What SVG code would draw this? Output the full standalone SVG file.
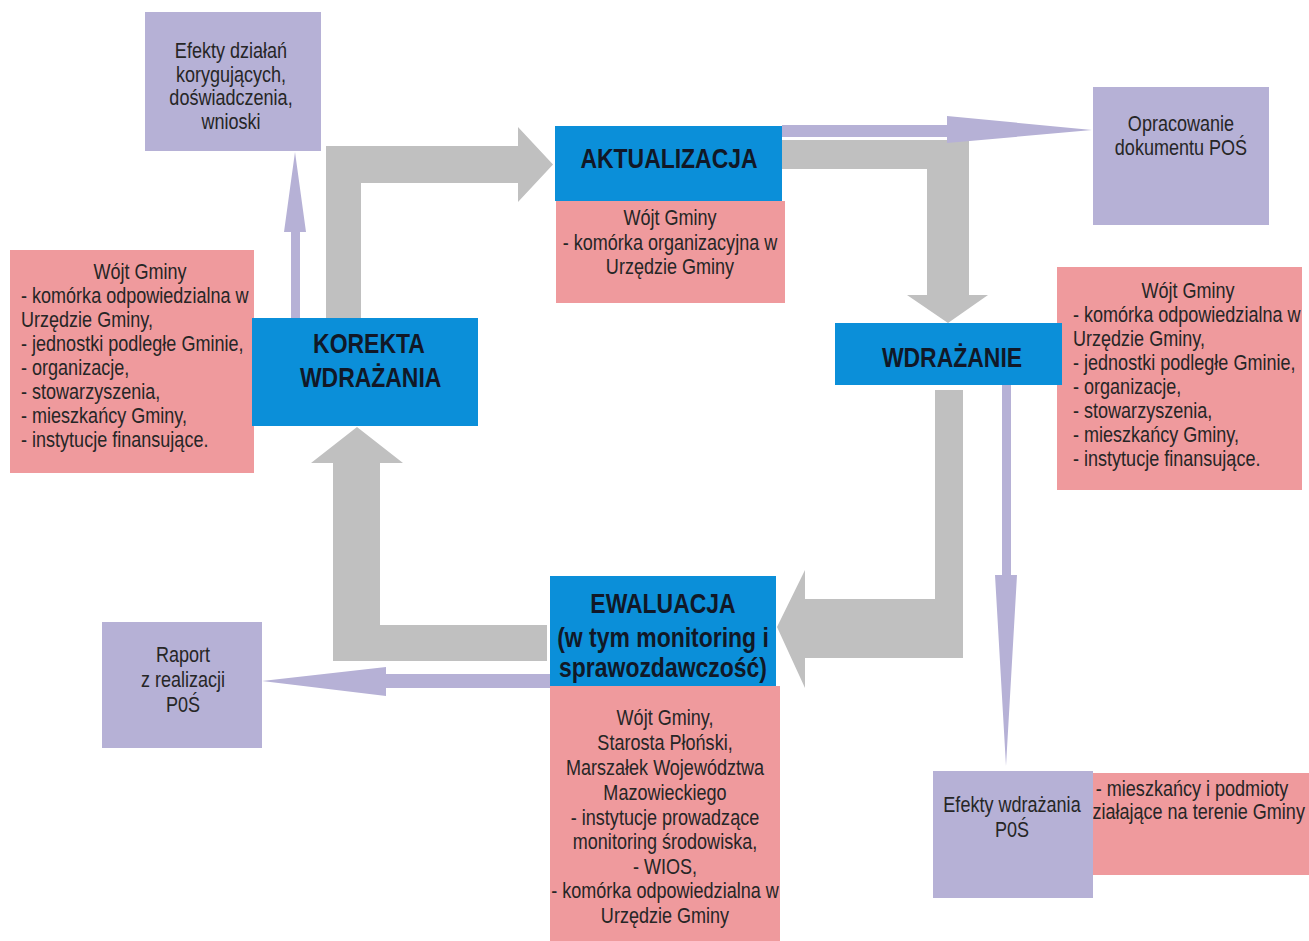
<svg xmlns="http://www.w3.org/2000/svg" width="1309" height="941" viewBox="0 0 1309 941">
<style>
.bg{fill:#ffffff}
.lav{fill:#b6b1d6}
.pink{fill:#ef9a9d}
.blue{fill:#0b8fd9}
.grey{fill:#c0c0c0}
.t{font-family:"Liberation Sans",Arial,sans-serif;font-size:22px;fill:#262626}
.c{text-anchor:middle}
.h{font-weight:bold;font-size:28px;fill:#111827}
</style>
<rect class="bg" x="0" y="0" width="1309" height="941"/>

<g id="connectors">
  <polygon class="grey" points="326,318 326,146 518,146 518,127 553,164.5 518,202 518,183 361,183 361,318"/>
  <polygon class="grey" points="782,140 969,140 969,295 988,295 948,323 907,295 927,295 927,169 782,169"/>
  <polygon class="grey" points="935,390 963,390 963,658 805,658 805,688 777,627 805,570 805,599 935,599"/>
  <polygon class="grey" points="547,625 547,661 333,661 333,463 311,463 357,427 403,463 380,463 380,625"/>
  <polygon class="lav" points="291,318 291,232 284,232 295,152 306,232 300,232 300,318"/>
  <polygon class="lav" points="782,125 947,125 947,116 1092,130 947,143 947,137 782,137"/>
  <polygon class="lav" points="1002,385 1011,385 1011,575 1017,575 1006,766 995,575 1002,575"/>
  <polygon class="lav" points="550,674 550,688 386,688 386,696 262,681 386,667 386,674"/>
</g>

<g id="efekty-dzialan">
  <rect class="lav" x="145" y="12" width="176" height="139"/>
  <g transform="translate(231,0) scale(0.82,1)">
    <text class="t c" x="0" y="58">Efekty działań</text>
    <text class="t c" x="0" y="82">korygujących,</text>
    <text class="t c" x="0" y="105">doświadczenia,</text>
    <text class="t c" x="0" y="129">wnioski</text>
  </g>
</g>

<g id="aktualizacja">
  <rect class="pink" x="556" y="201" width="229" height="102"/>
  <rect class="blue" x="555" y="126" width="227" height="75"/>
  <g transform="translate(669,0) scale(0.82,1)">
    <text class="t c h" x="0" y="168">AKTUALIZACJA</text>
  </g>
  <g transform="translate(670,0) scale(0.82,1)">
    <text class="t c" x="0" y="225">Wójt Gminy</text>
    <text class="t c" x="0" y="250">- komórka organizacyjna w</text>
    <text class="t c" x="0" y="274">Urzędzie Gminy</text>
  </g>
</g>

<g id="opracowanie">
  <rect class="lav" x="1093" y="87" width="176" height="138"/>
  <g transform="translate(1181,0) scale(0.82,1)">
    <text class="t c" x="0" y="131">Opracowanie</text>
    <text class="t c" x="0" y="155">dokumentu POŚ</text>
  </g>
</g>

<g id="korekta">
  <rect class="pink" x="10" y="250" width="244" height="223"/>
  <g transform="translate(140,0) scale(0.82,1)">
    <text class="t c" x="0" y="279">Wójt Gminy</text>
  </g>
  <g transform="translate(21,0) scale(0.82,1)">
    <text class="t" x="0" y="303">- komórka odpowiedzialna w</text>
    <text class="t" x="0" y="327">Urzędzie Gminy,</text>
    <text class="t" x="0" y="351">- jednostki podległe Gminie,</text>
    <text class="t" x="0" y="375">- organizacje,</text>
    <text class="t" x="0" y="399">- stowarzyszenia,</text>
    <text class="t" x="0" y="423">- mieszkańcy Gminy,</text>
    <text class="t" x="0" y="447">- instytucje finansujące.</text>
  </g>
  <rect class="blue" x="252" y="318" width="226" height="108"/>
  <g transform="translate(369,0) scale(0.82,1)">
    <text class="t c h" x="0" y="353">KOREKTA</text>
    <text class="t c h" x="2" y="387">WDRAŻANIA</text>
  </g>
</g>

<g id="wdrazanie">
  <rect class="pink" x="1057" y="267" width="245" height="223"/>
  <g transform="translate(1188,0) scale(0.82,1)">
    <text class="t c" x="0" y="298">Wójt Gminy</text>
  </g>
  <g transform="translate(1073,0) scale(0.82,1)">
    <text class="t" x="0" y="322">- komórka odpowiedzialna w</text>
    <text class="t" x="0" y="346">Urzędzie Gminy,</text>
    <text class="t" x="0" y="370">- jednostki podległe Gminie,</text>
    <text class="t" x="0" y="394">- organizacje,</text>
    <text class="t" x="0" y="418">- stowarzyszenia,</text>
    <text class="t" x="0" y="442">- mieszkańcy Gminy,</text>
    <text class="t" x="0" y="466">- instytucje finansujące.</text>
  </g>
  <rect class="blue" x="835" y="323" width="227" height="62"/>
  <g transform="translate(952,0) scale(0.82,1)">
    <text class="t c h" x="0" y="367">WDRAŻANIE</text>
  </g>
</g>

<g id="ewaluacja">
  <rect class="pink" x="550" y="686" width="230" height="255"/>
  <rect class="blue" x="550" y="576" width="226" height="110"/>
  <g transform="translate(663,0) scale(0.82,1)">
    <text class="t c h" x="0" y="613">EWALUACJA</text>
    <text class="t c h" x="0" y="647">(w tym monitoring i</text>
    <text class="t c h" x="0" y="677">sprawozdawczość)</text>
  </g>
  <g transform="translate(665,0) scale(0.82,1)">
    <text class="t c" x="0" y="725">Wójt Gminy,</text>
    <text class="t c" x="0" y="750">Starosta Płoński,</text>
    <text class="t c" x="0" y="775">Marszałek Województwa</text>
    <text class="t c" x="0" y="800">Mazowieckiego</text>
    <text class="t c" x="0" y="825">- instytucje prowadzące</text>
    <text class="t c" x="0" y="849">monitoring środowiska,</text>
    <text class="t c" x="0" y="874">- WIOS,</text>
    <text class="t c" x="0" y="898">- komórka odpowiedzialna w</text>
    <text class="t c" x="0" y="923">Urzędzie Gminy</text>
  </g>
</g>

<g id="raport">
  <rect class="lav" x="102" y="622" width="160" height="126"/>
  <g transform="translate(183,0) scale(0.82,1)">
    <text class="t c" x="0" y="662">Raport</text>
    <text class="t c" x="0" y="687">z realizacji</text>
    <text class="t c" x="0" y="712">P0Ś</text>
  </g>
</g>

<g id="efekty-wdrazania">
  <rect class="pink" x="1075" y="773" width="234" height="102"/>
  <g transform="translate(1192,0) scale(0.82,1)">
    <text class="t c" x="0" y="796">- mieszkańcy i podmioty</text>
    <text class="t c" x="2" y="819">działające na terenie Gminy</text>
  </g>
  <rect class="lav" x="933" y="771" width="160" height="127"/>
  <g transform="translate(1012,0) scale(0.82,1)">
    <text class="t c" x="0" y="812">Efekty wdrażania</text>
    <text class="t c" x="0" y="837">P0Ś</text>
  </g>
</g>
</svg>
